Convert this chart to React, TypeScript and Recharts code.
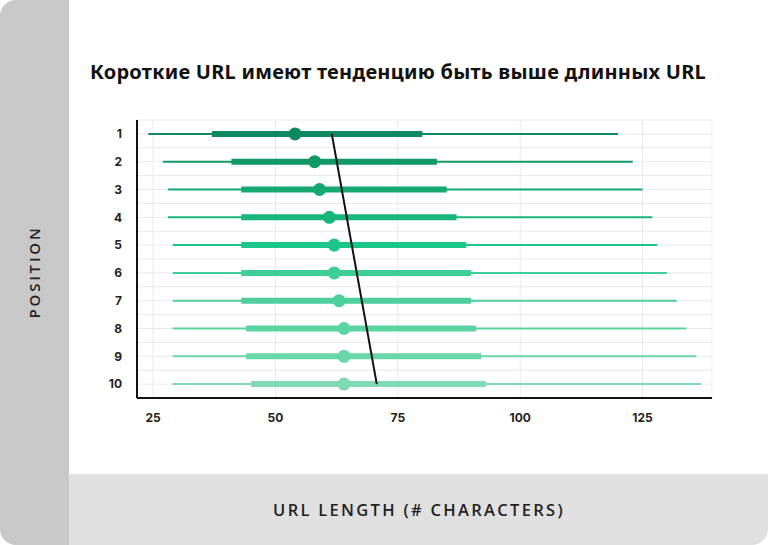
import React from 'react';
import { ComposedChart, XAxis, YAxis, CartesianGrid, ReferenceLine, Scatter, Cell } from 'recharts';

const positions = [1, 2, 3, 4, 5, 6, 7, 8, 9, 10];
const whiskerLow = [24, 27, 28, 28, 29, 29, 29, 29, 29, 29];
const boxLow = [37, 41, 43, 43, 43, 43, 43, 44, 44, 45];
const medians = [54, 58, 59, 61, 62, 62, 63, 64, 64, 64];
const boxHigh = [80, 83, 85, 87, 89, 90, 90, 91, 92, 93];
const whiskerHigh = [120, 123, 125, 127, 128, 130, 132, 134, 136, 137];
const rowColors = ['#0f8a5f', '#129a66', '#15a870', '#17b67b', '#1cc688', '#3dcf96', '#4dd09b', '#5bd4a2', '#6ad7a9', '#7fdab4'];
const xTicks = [25, 50, 75, 100, 125];
const xDomain = [21.7, 139.2];
const trendX = [61.5, 70.7];
const trendPos = [1, 10];

const title = 'Короткие URL имеют тенденцию быть выше длинных URL';
const yTitle = 'POSITION';
const xTitle = 'URL LENGTH (# CHARACTERS)';

const yTicks = [positions[0] - 0.5, ...positions.flatMap((p) => [p, p + 0.5])];
const dots = positions.map((p, i) => ({ x: medians[i], y: p }));

const tickFont = { fontFamily: 'Inter, "Open Sans", sans-serif', fontWeight: 700, fontSize: 12, fill: '#222' };

const Dot = (props: any) => <circle cx={props.cx} cy={props.cy} r={6.5} fill={props.fill} />;

export default function App() {
  return (
    <div style={{ position: 'absolute', left: 0, top: 0, width: 768, height: 545, background: '#fff', overflow: 'hidden' }}>
      <div style={{ position: 'absolute', left: 0, top: 0, width: 69, height: 545, background: '#c8c8c8', borderTopLeftRadius: 16, borderBottomLeftRadius: 16 }} />
      <div style={{ position: 'absolute', left: 69, top: 474, width: 699, height: 71, background: '#e0e0e0', borderBottomRightRadius: 16 }} />
      <div style={{ position: 'absolute', left: 90, top: 58, fontFamily: '"Noto Sans", "Open Sans", sans-serif', fontWeight: 700, fontSize: 20, letterSpacing: 0.25, color: '#111', whiteSpace: 'nowrap' }}>{title}</div>
      <div style={{ position: 'absolute', left: 34, top: 272, transform: 'translate(-50%, -50%) rotate(-90deg)', fontFamily: '"Open Sans", sans-serif', fontWeight: 600, fontSize: 15, letterSpacing: 2.8, color: '#222', whiteSpace: 'nowrap' }}>{yTitle}</div>
      <div style={{ position: 'absolute', left: 419, top: 509, transform: 'translate(-50%, -50%)', fontFamily: '"Open Sans", sans-serif', fontWeight: 600, fontSize: 16.5, letterSpacing: 2.3, color: '#222', whiteSpace: 'nowrap' }}>{xTitle}</div>
      <div style={{ position: 'absolute', left: 0, top: 0 }}>
        <ComposedChart width={768} height={545} margin={{ top: 120, right: 56, bottom: 117, left: 97 }}>
          <CartesianGrid stroke="#e9e9e9" strokeWidth={1} />
          <XAxis type="number" dataKey="x" domain={xDomain} ticks={xTicks} allowDataOverflow height={30}
            axisLine={{ stroke: '#111', strokeWidth: 2 }} tickLine={false} tickSize={0} tickMargin={15} tick={tickFont} />
          <YAxis type="number" dataKey="y" domain={[yTicks[0], yTicks[yTicks.length - 1]]} ticks={yTicks} reversed allowDataOverflow width={40} interval={0}
            axisLine={{ stroke: '#111', strokeWidth: 2 }} tickLine={false} tickSize={0} tickMargin={15} tick={tickFont}
            tickFormatter={(v: number) => (Number.isInteger(v) ? String(v) : '')} />
          {positions.map((p, i) => (
            <ReferenceLine key={'w' + p} segment={[{ x: whiskerLow[i], y: p }, { x: whiskerHigh[i], y: p }]} stroke={rowColors[i]} strokeWidth={2} ifOverflow="visible" />
          ))}
          {positions.map((p, i) => (
            <ReferenceLine key={'b' + p} segment={[{ x: boxLow[i], y: p }, { x: boxHigh[i], y: p }]} stroke={rowColors[i]} strokeWidth={6} ifOverflow="visible" />
          ))}
          <ReferenceLine segment={[{ x: trendX[0], y: trendPos[0] }, { x: trendX[1], y: trendPos[1] }]} stroke="#111" strokeWidth={2} ifOverflow="visible" />
          <Scatter data={dots} shape={Dot} isAnimationActive={false}>
            {dots.map((d, i) => (
              <Cell key={i} fill={rowColors[i]} />
            ))}
          </Scatter>
        </ComposedChart>
      </div>
    </div>
  );
}
